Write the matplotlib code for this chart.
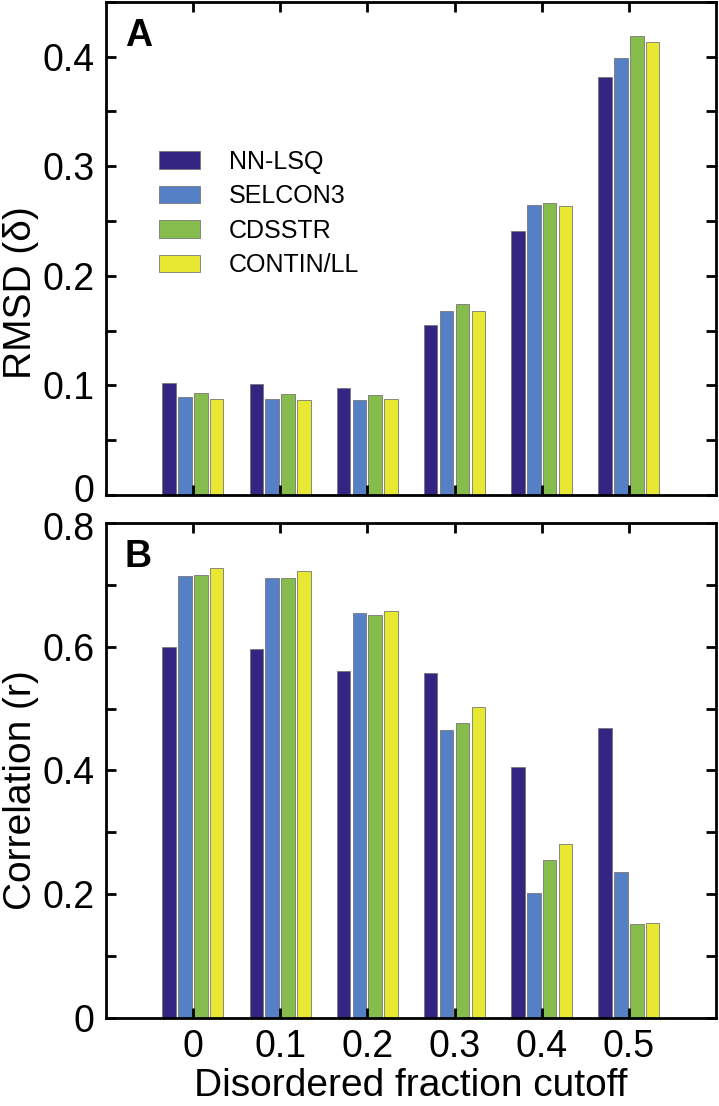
import matplotlib
matplotlib.use('Agg')
import matplotlib.pyplot as plt
import matplotlib.transforms as mtransforms
import numpy as np
from matplotlib.ticker import MultipleLocator

plt.rcParams['font.family'] = ['Liberation Sans', 'DejaVu Sans']

# data
cutoffs = ['0', '0.1', '0.2', '0.3', '0.4', '0.5']
methods = ['NN-LSQ', 'SELCON3', 'CDSSTR', 'CONTIN/LL']
colors = ['#352583', '#5580c5', '#86bc4c', '#e8e832']

rmsd_nnlsq = [0.102, 0.101, 0.098, 0.155, 0.241, 0.381]
rmsd_selcon3 = [0.089, 0.088, 0.087, 0.168, 0.265, 0.399]
rmsd_cdsstr = [0.093, 0.092, 0.091, 0.174, 0.266, 0.419]
rmsd_contin = [0.088, 0.087, 0.088, 0.168, 0.264, 0.413]

corr_nnlsq = [0.600, 0.596, 0.561, 0.558, 0.406, 0.469]
corr_selcon3 = [0.714, 0.711, 0.655, 0.466, 0.202, 0.236]
corr_cdsstr = [0.716, 0.711, 0.651, 0.476, 0.255, 0.152]
corr_contin = [0.728, 0.723, 0.658, 0.502, 0.281, 0.153]

rmsd = [rmsd_nnlsq, rmsd_selcon3, rmsd_cdsstr, rmsd_contin]
corr = [corr_nnlsq, corr_selcon3, corr_cdsstr, corr_contin]

fig = plt.figure(figsize=(7.19, 11.06), dpi=100)
axA = fig.add_axes([0.147, 0.5524, 0.849, 0.446])
axB = fig.add_axes([0.147, 0.0796, 0.849, 0.4475])

x = np.arange(1, len(cutoffs) + 1)
w = 0.155
step = 0.182

def draw(ax, series):
    for i, vals in enumerate(series):
        ax.bar(x + (i - 1.5) * step, vals, width=w, color=colors[i],
               edgecolor='#777777', linewidth=0.6, label=methods[i], zorder=1)
    ax.set_xlim(0, 7)
    ax.set_xticks(x)
    for s in ax.spines.values():
        s.set_linewidth(2.0)
    ax.tick_params(which='both', direction='in', top=True, right=True,
                   width=2.0, length=7, labelsize=27, pad=8)
    ax.tick_params(axis='x', which='minor', bottom=False, top=False)

# panel A
draw(axA, rmsd)
axA.set_ylim(0, 0.45)
axA.set_yticks([0, 0.1, 0.2, 0.3, 0.4])
axA.yaxis.set_minor_locator(MultipleLocator(0.05))
axA.set_yticklabels(['0', '0.1', '0.2', '0.3', '0.4'])
axA.set_xticklabels([])
axA.set_ylabel('RMSD (δ)', fontsize=28)
axA.yaxis.set_label_coords(-0.11, 0.41)
axA.text(0.031, 0.967, 'A', transform=axA.transAxes, fontsize=27, fontweight='bold',
         va='top', ha='left')
axA.legend(loc='upper left', bbox_to_anchor=(0.087, 0.70), frameon=False,
           prop={'size': 18}, borderpad=0, borderaxespad=0,
           handlelength=1.65, handleheight=0.7, handletextpad=1.15, labelspacing=0.42)

# panel B
draw(axB, corr)
axB.set_ylim(0, 0.8)
axB.set_yticks([0, 0.2, 0.4, 0.6, 0.8])
axB.yaxis.set_minor_locator(MultipleLocator(0.1))
axB.set_yticklabels(['0', '0.2', '0.4', '0.6', '0.8'])
axB.set_xticklabels(cutoffs)
axB.set_ylabel('Correlation (r)', fontsize=28)
axB.yaxis.set_label_coords(-0.11, 0.46)
axB.set_xlabel('Disordered fraction cutoff', fontsize=28, labelpad=2)
axB.text(0.031, 0.967, 'B', transform=axB.transAxes, fontsize=27, fontweight='bold',
         va='top', ha='left')

# the two labels at the panel joint sit a little apart, as in the original
up = mtransforms.ScaledTranslation(0, 5 / 72, fig.dpi_scale_trans)
down = mtransforms.ScaledTranslation(0, -2 / 72, fig.dpi_scale_trans)
labA = axA.get_yticklabels()[0]
labA.set_transform(labA.get_transform() + up)
labB = axB.get_yticklabels()[-1]
labB.set_transform(labB.get_transform() + down)

fig.savefig('out.png', dpi=100)
